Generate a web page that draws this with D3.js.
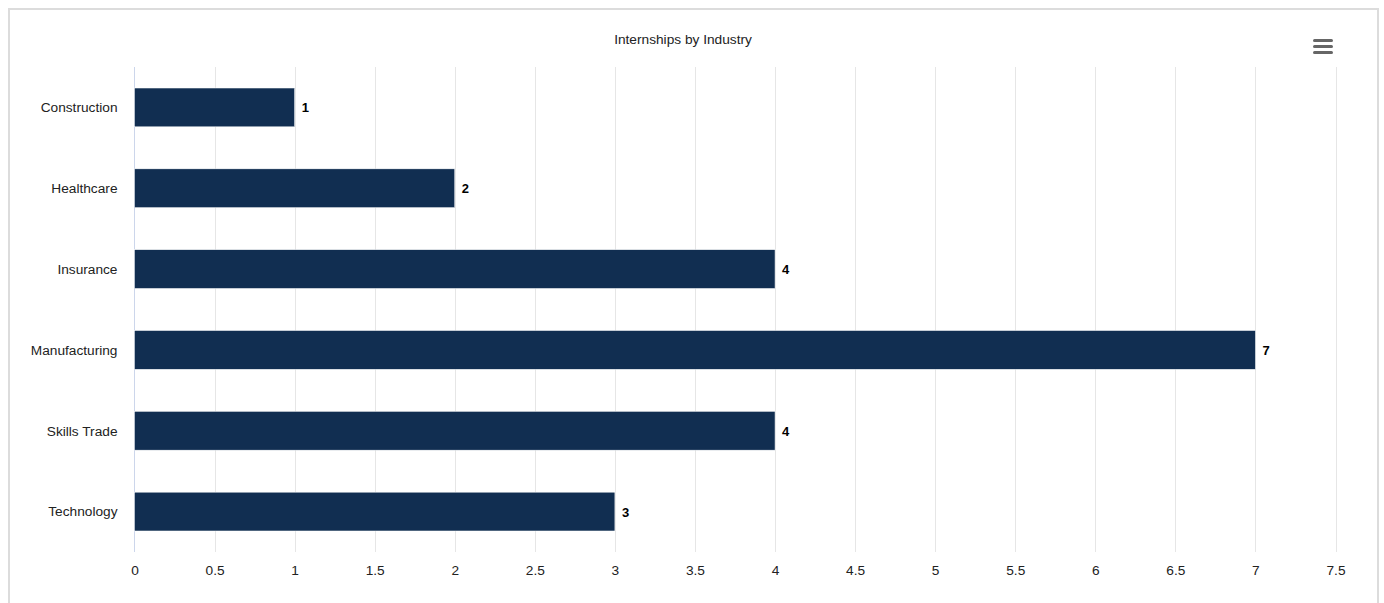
<!DOCTYPE html>
<html>
<head>
<meta charset="utf-8">
<script src="https://cdn.jsdelivr.net/npm/d3@7"></script>
<style>
  html, body { margin: 0; padding: 0; background: #fff; }
  svg { display: block; font-family: "Liberation Sans", Arial, Helvetica, sans-serif; }
</style>
</head>
<body>
<svg id="chart" width="1384" height="603"></svg>
<script>
// Internship counts per industry
const categories = ["Construction", "Healthcare", "Insurance", "Manufacturing", "Skills Trade", "Technology"];
const internships = [1, 2, 4, 7, 4, 3];
const xTicks = [0, 0.5, 1, 1.5, 2, 2.5, 3, 3.5, 4, 4.5, 5, 5.5, 6, 6.5, 7, 7.5];
const chartTitle = "Internships by Industry";

const svg = d3.select("#chart");

// card frame
svg.append("rect")
  .attr("x", 9).attr("y", 9)
  .attr("width", 1369).attr("height", 620)
  .attr("fill", "#fff")
  .attr("stroke", "#dcdcdc")
  .attr("stroke-width", 2);

const plot = { left: 134.5, right: 1335.5, top: 67, bottom: 552 };

const x = d3.scaleLinear().domain([0, 7.5]).range([plot.left, plot.right]);
const y = d3.scaleBand().domain(categories).range([plot.top, plot.bottom]).padding(0);
const barH = y.bandwidth() * 0.48;

// vertical grid lines
svg.append("g")
  .selectAll("line")
  .data(xTicks.filter(t => t > 0))
  .join("line")
  .attr("x1", d => Math.round(x(d)) + 0.5)
  .attr("x2", d => Math.round(x(d)) + 0.5)
  .attr("y1", plot.top)
  .attr("y2", plot.bottom)
  .attr("stroke", "#e6e6e6")
  .attr("stroke-width", 1);

// category axis line
svg.append("line")
  .attr("x1", plot.left).attr("x2", plot.left)
  .attr("y1", plot.top).attr("y2", plot.bottom)
  .attr("stroke", "#ccd6eb")
  .attr("stroke-width", 1);

// bars
svg.append("g")
  .selectAll("rect")
  .data(categories)
  .join("rect")
  .attr("x", x(0))
  .attr("y", d => y(d) + (y.bandwidth() - barH) / 2)
  .attr("width", (d, i) => x(internships[i]) - x(0))
  .attr("height", barH)
  .attr("fill", "#112e51")
  .attr("stroke", "#fff")
  .attr("stroke-width", 0.5);

// value labels
svg.append("g")
  .selectAll("text")
  .data(categories)
  .join("text")
  .attr("x", (d, i) => x(internships[i]) + 7)
  .attr("y", d => y(d) + y.bandwidth() / 2 + 0.5)
  .attr("dy", "0.35em")
  .attr("font-size", 13)
  .attr("font-weight", "bold")
  .attr("fill", "#000")
  .text((d, i) => internships[i]);

// category labels
const yAxis = d3.axisLeft(y).tickSize(0).tickPadding(17);
svg.append("g")
  .attr("transform", `translate(${plot.left},0.5)`)
  .call(yAxis)
  .call(g => g.select(".domain").remove())
  .call(g => g.selectAll("text").attr("font-size", 13.7).attr("fill", "#222").attr("font-family", null));

// value axis labels
const xAxis = d3.axisBottom(x).tickValues(xTicks).tickSize(0).tickPadding(13).tickFormat(d3.format("~g"));
svg.append("g")
  .attr("transform", `translate(0,${plot.bottom})`)
  .call(xAxis)
  .call(g => g.select(".domain").remove())
  .call(g => g.selectAll("text").attr("font-size", 13.7).attr("fill", "#222").attr("font-family", null));

// title
svg.append("text")
  .attr("x", 683)
  .attr("y", 44)
  .attr("text-anchor", "middle")
  .attr("font-size", 13.7)
  .attr("fill", "#222")
  .text(chartTitle);

// export menu icon
svg.append("g")
  .selectAll("rect")
  .data([0, 1, 2])
  .join("rect")
  .attr("x", 1313)
  .attr("y", d => 39 + d * 6)
  .attr("width", 20)
  .attr("height", 3)
  .attr("rx", 1.5)
  .attr("fill", "#666");
</script>
</body>
</html>
